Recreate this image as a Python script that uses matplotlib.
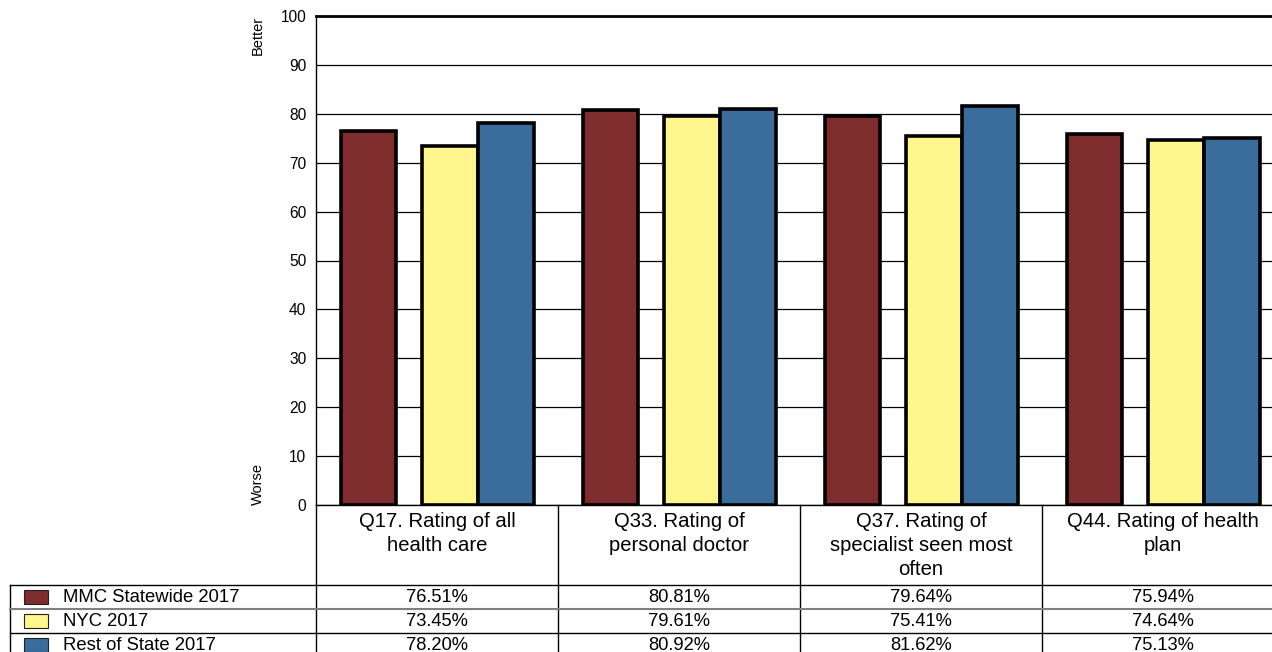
import matplotlib
matplotlib.use("Agg")
import matplotlib.pyplot as plt
from matplotlib.lines import Line2D
from matplotlib.patches import Rectangle

plt.rcParams["font.family"] = ["Liberation Sans", "DejaVu Sans"]

categories = ["Q17. Rating of all\nhealth care",
              "Q33. Rating of\npersonal doctor",
              "Q37. Rating of\nspecialist seen most\noften",
              "Q44. Rating of health\nplan"]
series_names = ["MMC Statewide 2017", "NYC 2017", "Rest of State 2017"]
mmc = [76.51, 80.81, 79.64, 75.94]
nyc = [73.45, 79.61, 75.41, 74.64]
rest = [78.20, 80.92, 81.62, 75.13]
colors = ["#7E2C2C", "#FFF68E", "#3A6C9C"]

W, H = 1272, 652
fig = plt.figure(figsize=(W / 100, H / 100), dpi=100)


def fx(px):
    return px / W


def fy(py):
    return 1 - py / H


# axes runs past the right edge of the picture, like the original
ax = fig.add_axes([fx(316), fy(505), fx(1284) - fx(316), fy(16) - fy(505)])

offsets = [0.217, 0.554, 0.785]
width = 0.231
for k, vals in enumerate([mmc, nyc, rest]):
    xs = [i + offsets[k] for i in range(len(vals))]
    ax.bar(xs, vals, width=width, color=colors[k], edgecolor="black",
           linewidth=2.6, zorder=3)

ax.set_xlim(0, 4)
ax.set_ylim(0, 100)
ax.set_yticks(range(0, 101, 10))
ax.yaxis.grid(True, color="black", linewidth=0.9, zorder=0)
ax.set_axisbelow(True)
ax.set_xticks([])
ax.tick_params(axis="y", length=0, pad=7, labelsize=11.2)
ax.spines["top"].set_linewidth(2.0)
ax.spines["left"].set_linewidth(1.0)
ax.spines["bottom"].set_linewidth(1.0)
ax.spines["right"].set_visible(False)

ax.text(-0.06, 1.0, "Better", transform=ax.transAxes, rotation=90,
        ha="center", va="top", fontsize=10.5)
ax.text(-0.06, 0.0, "Worse", transform=ax.transAxes, rotation=90,
        ha="center", va="bottom", fontsize=10.5)


def fline(x0, x1, y0, y1, color="black", lw=1.0):
    fig.add_artist(Line2D([fx(x0), fx(x1)], [fy(y0), fy(y1)],
                          transform=fig.transFigure, color=color, linewidth=lw))


# table under the chart
col_edges = [316, 558, 800, 1042]
for xe in col_edges:
    fline(xe, xe, 505, 660)
fline(10, 10, 585, 660)
fline(10, 1290, 585, 585)
fline(10, 1290, 609, 609, color="#808080", lw=1.5)
fline(10, 1290, 633, 633)
fline(10, 1290, 657, 657)

for i, cat in enumerate(categories):
    xc = fx(316 + 242 * (i + 0.5))
    fig.text(xc, fy(512), cat, ha="center", va="top", fontsize=14.6,
             linespacing=1.33)

row_y = [597, 621, 645]
for r, vals in enumerate([mmc, nyc, rest]):
    fig.add_artist(Rectangle((fx(24), fy(row_y[r] + 7)), fx(24), fy(0) - fy(14),
                             transform=fig.transFigure, facecolor=colors[r],
                             edgecolor="#222222", linewidth=0.8))
    fig.text(fx(63), fy(row_y[r]), series_names[r], ha="left", va="center",
             fontsize=13.3)
    for i, v in enumerate(vals):
        xc = fx(316 + 242 * (i + 0.5))
        fig.text(xc, fy(row_y[r]), "%.2f%%" % v, ha="center", va="center",
                 fontsize=13.2)

fig.savefig("out.png", dpi=100)
